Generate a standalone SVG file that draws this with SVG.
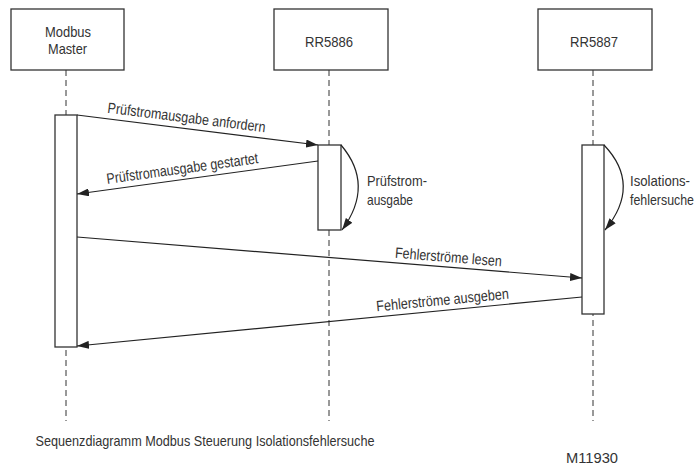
<svg xmlns="http://www.w3.org/2000/svg" width="699" height="466" viewBox="0 0 699 466">
<defs>
<style>
text{font-family:"Liberation Sans",Arial,sans-serif;fill:#333;font-size:15px}
.box{fill:#fff;stroke:#333;stroke-width:1.3}
.life{stroke:#333;stroke-width:1;stroke-dasharray:6,4;fill:none}
.msg{stroke:#222;stroke-width:1.2;fill:none;marker-end:url(#ah)}
</style>
<marker id="ah" viewBox="0 0 12 8" refX="12" refY="4" markerWidth="12" markerHeight="8" markerUnits="userSpaceOnUse" orient="auto">
<path d="M0,0 L12,4 L0,8 Z" fill="#222"/>
</marker>
</defs>
<rect width="699" height="466" fill="#fff"/>
<g id="lifelines">
<line class="life" x1="66" y1="70" x2="66" y2="421"/>
<line class="life" x1="329" y1="70" x2="329" y2="421"/>
<line class="life" x1="593" y1="70" x2="593" y2="421"/>
</g>
<g id="master">
<rect class="box" x="11" y="9" width="113" height="61"/>
<text x="68" y="37" text-anchor="middle" textLength="46" lengthAdjust="spacingAndGlyphs">Modbus</text>
<text x="67.5" y="53.5" text-anchor="middle" textLength="39" lengthAdjust="spacingAndGlyphs">Master</text>
<rect class="box" x="55" y="115" width="22" height="232"/>
</g>
<g id="rr5886">
<rect class="box" x="274" y="9" width="114" height="61"/>
<text x="329" y="47" text-anchor="middle" textLength="48" lengthAdjust="spacingAndGlyphs">RR5886</text>
<rect class="box" x="318" y="145" width="23" height="85"/>
</g>
<g id="rr5887">
<rect class="box" x="538" y="9" width="114" height="61"/>
<text x="594" y="47" text-anchor="middle" textLength="48" lengthAdjust="spacingAndGlyphs">RR5887</text>
<rect class="box" x="582" y="145" width="22" height="169"/>
</g>
<g id="connectors">
<line class="msg" x1="77" y1="115" x2="318" y2="145"/>
<line class="msg" x1="318" y1="161" x2="77" y2="194"/>
<line class="msg" x1="77" y1="237" x2="582" y2="278"/>
<line class="msg" x1="582" y1="297" x2="77" y2="346"/>
<path class="msg" d="M341,145 Q375,185 342,230"/>
<path class="msg" d="M604,145 Q642,185 605,230"/>
</g>
<g id="labels">
<text x="186" y="122.5" text-anchor="middle" transform="rotate(7.1 186 122.5)" textLength="159" lengthAdjust="spacingAndGlyphs">Prüfstromausgabe anfordern</text>
<text x="183" y="173.5" text-anchor="middle" transform="rotate(-7.8 183 173.5)" textLength="153" lengthAdjust="spacingAndGlyphs">Prüfstromausgabe gestartet</text>
<text x="448" y="262" text-anchor="middle" transform="rotate(4.6 448 262)" textLength="107" lengthAdjust="spacingAndGlyphs">Fehlerströme lesen</text>
<text x="443" y="305" text-anchor="middle" transform="rotate(-5.5 443 305)" textLength="133" lengthAdjust="spacingAndGlyphs">Fehlerströme ausgeben</text>
<text x="367" y="185.5" textLength="60" lengthAdjust="spacingAndGlyphs">Prüfstrom-</text>
<text x="367" y="205" textLength="46" lengthAdjust="spacingAndGlyphs">ausgabe</text>
<text x="630" y="185.5" textLength="60" lengthAdjust="spacingAndGlyphs">Isolations-</text>
<text x="630" y="205" textLength="64" lengthAdjust="spacingAndGlyphs">fehlersuche</text>
</g>
<g id="caption">
<text x="35.5" y="445.5" textLength="339" lengthAdjust="spacingAndGlyphs">Sequenzdiagramm Modbus Steuerung Isolationsfehlersuche</text>
<text x="566" y="463" textLength="52" lengthAdjust="spacingAndGlyphs">M11930</text>
</g>
</svg>
